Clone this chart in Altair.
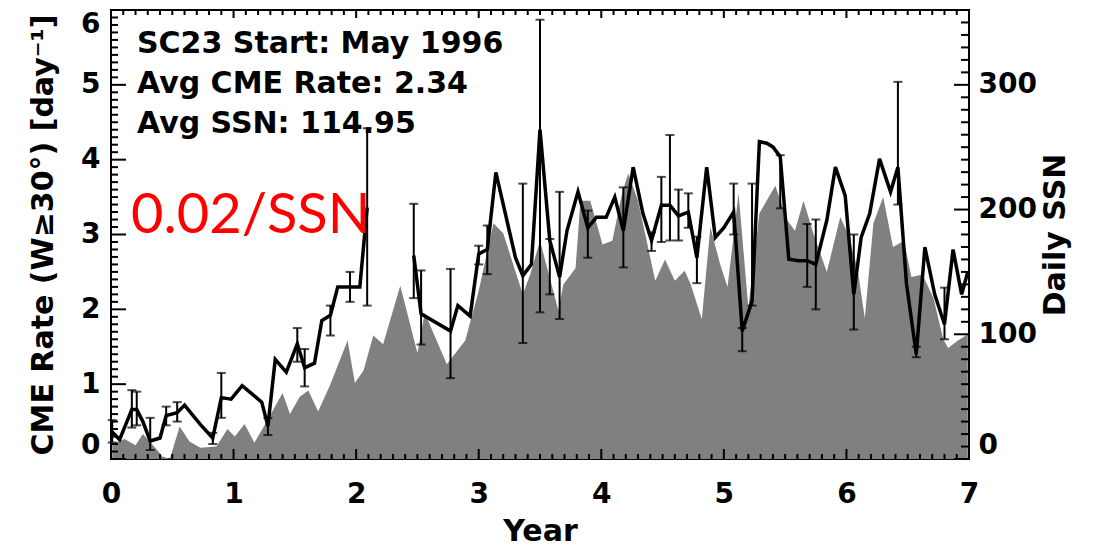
import altair as alt
import pandas as pd

# ---- CME rate (per Carrington rotation), years since cycle start -----------
# first run (before the mid-1998 SOHO data gap)
cme_year_a = [0.01, 0.07, 0.17, 0.21, 0.26, 0.32, 0.40, 0.45, 0.54, 0.60,
              0.67, 0.73, 0.83, 0.90, 0.98, 1.07, 1.15, 1.23, 1.28, 1.34,
              1.43, 1.52, 1.58, 1.66, 1.72, 1.79, 1.85, 1.95, 2.03, 2.09]
cme_rate_a = [0.36, 0.26, 0.66, 0.66, 0.50, 0.24, 0.28, 0.58, 0.62, 0.72,
              0.58, 0.46, 0.28, 0.82, 0.80, 0.98, 0.87, 0.76, 0.44, 1.33,
              1.16, 1.54, 1.22, 1.28, 1.85, 1.92, 2.30, 2.30, 2.30, 3.36]
# second run
cme_year_b = [2.47, 2.53, 2.77, 2.83, 2.93, 3.00, 3.07, 3.14, 3.30, 3.36,
              3.43, 3.50, 3.58, 3.66, 3.72, 3.81, 3.89, 3.96, 4.04, 4.11,
              4.18, 4.26, 4.34, 4.41, 4.49, 4.56, 4.63, 4.71, 4.78, 4.86,
              4.93, 5.00, 5.08, 5.15, 5.23, 5.29, 5.35, 5.40, 5.46, 5.53,
              5.61, 5.68, 5.75, 5.84, 5.91, 5.99, 6.06, 6.12, 6.19, 6.27,
              6.36, 6.42, 6.49, 6.57, 6.64, 6.72, 6.80, 6.87, 6.94, 6.99]
cme_rate_b = [2.72, 1.94, 1.71, 2.05, 1.91, 2.74, 2.80, 3.83, 2.69, 2.45,
              2.60, 4.40, 2.92, 2.43, 3.05, 3.57, 3.09, 3.23, 3.23, 3.50,
              3.05, 3.90, 3.28, 2.92, 3.39, 3.39, 3.25, 3.30, 2.69, 3.90,
              2.96, 3.09, 3.30, 1.71, 2.11, 4.24, 4.22, 4.17, 4.04, 2.67,
              2.65, 2.65, 2.60, 3.19, 3.90, 3.52, 2.20, 2.96, 3.28, 4.01,
              3.57, 3.90, 2.34, 1.40, 2.83, 2.20, 1.80, 2.80, 2.20, 2.50]

# ---- error bars on the CME rate ---------------------------------------------
err_year = [0.01, 0.17, 0.21, 0.32, 0.45, 0.54, 0.83, 0.90, 1.28, 1.52,
            1.58, 1.79, 1.95, 2.09, 2.47, 2.53, 2.77, 3.00, 3.07, 3.36,
            3.50, 3.58, 3.66, 3.89, 4.18, 4.41, 4.49, 4.56, 4.63, 4.71,
            4.78, 5.08, 5.15, 5.23, 5.46, 5.68, 5.75, 6.06, 6.42, 6.57,
            6.80]
err_lo = [0.22, 0.42, 0.45, 0.12, 0.45, 0.50, 0.20, 0.55, 0.32, 1.30,
          0.97, 1.65, 2.10, 2.05, 2.15, 1.53, 1.08, 2.60, 2.47, 1.55,
          1.96, 2.20, 1.87, 2.69, 2.56, 2.78, 2.90, 2.92, 2.92, 3.09,
          2.35, 3.00, 1.44, 2.05, 3.35, 2.30, 2.00, 1.73, 3.40, 1.36,
          1.60]
err_hi = [0.52, 0.92, 0.90, 0.55, 0.70, 0.76, 0.35, 1.15, 0.55, 1.75,
          1.47, 2.05, 2.50, 4.42, 3.41, 2.52, 2.54, 2.85, 3.12, 3.68,
          5.87, 2.94, 3.57, 3.32, 3.63, 3.03, 3.77, 4.33, 3.60, 3.55,
          2.97, 3.68, 1.75, 3.68, 4.06, 3.14, 3.20, 3.00, 5.04, 1.50,
          2.29]

# ---- daily sunspot number (rotation averaged) ------------------------------
ssn_year = [0.01, 0.11, 0.20, 0.26, 0.36, 0.42, 0.48, 0.56, 0.64, 0.73,
            0.86, 0.95, 1.01, 1.09, 1.17, 1.27, 1.40, 1.46, 1.54, 1.61,
            1.69, 1.79, 1.93, 1.99, 2.06, 2.14, 2.22, 2.36, 2.50, 2.56,
            2.74, 2.89, 3.00, 3.12, 3.20, 3.36, 3.42, 3.50, 3.65, 3.69,
            3.79, 3.83, 3.91, 4.01, 4.09, 4.17, 4.22, 4.30, 4.44, 4.52,
            4.60, 4.68, 4.73, 4.82, 4.89, 4.97, 5.03, 5.12, 5.20, 5.29,
            5.42, 5.52, 5.58, 5.65, 5.73, 5.84, 5.95, 6.01, 6.09, 6.15,
            6.22, 6.30, 6.38, 6.47, 6.53, 6.62, 6.71, 6.79, 6.83, 6.91,
            6.99]
ssn_val = [12, 16, 11, 20, 9, 2, 0, 26, 14, 9,
           10, 24, 18, 28, 13, 30, 53, 36, 50, 55,
           38, 60, 95, 61, 71, 99, 92, 139, 85, 117,
           76, 95, 135, 189, 181, 132, 148, 175, 119, 140,
           153, 207, 207, 172, 175, 213, 229, 207, 143, 160,
           143, 151, 140, 112, 186, 156, 138, 213, 121, 197,
           219, 191, 183, 207, 181, 150, 194, 181, 153, 113,
           189, 210, 170, 175, 146, 148, 129, 96, 89, 95,
           100]

# ---- tick values ------------------------------------------------------------
rate_major = [0, 1, 2, 3, 4, 5, 6]
rate_minor = [i / 10 for i in range(61) if i % 10]
ssn_major = [0, 100, 200, 300]
ssn_minor = [i * 10 for i in range(37) if i % 10]
year_major = [0, 1, 2, 3, 4, 5, 6, 7]
year_minor = [i / 10 for i in range(71) if i % 10]

W, H = 858, 449
BOLD = "DejaVu Sans"

cme_df = pd.DataFrame({
    "year": cme_year_a + cme_year_b,
    "rate": cme_rate_a + cme_rate_b,
    "run": ["a"] * len(cme_year_a) + ["b"] * len(cme_year_b),
})
err_df = pd.DataFrame({"year": err_year, "lo": err_lo, "hi": err_hi})
ssn_df = pd.DataFrame({"year": ssn_year, "ssn": ssn_val})

xs = alt.Scale(domain=[0, 7], nice=False, zero=False)
ys_rate = alt.Scale(domain=[0, 6], nice=False, zero=False)
ys_ssn = alt.Scale(domain=[0, 360], nice=False, zero=False)

# one axis definition per scale, shared by every layer that uses it
X_AXIS = alt.Axis(values=year_major, title="Year", labelPadding=21,
                  labelFlush=False, titlePadding=8, zindex=1)
Y_RATE_AXIS = alt.Axis(orient="left", values=rate_major,
                       title="CME Rate (W≥30°) [day⁻¹]",
                       labelFlush=True, labelPadding=11, titlePadding=22,
                       zindex=1)
Y_SSN_AXIS = alt.Axis(orient="right", values=ssn_major, title="Daily SSN",
                      titleAngle=270, titleBaseline="top",
                      labelFlush=True, labelPadding=9, titlePadding=4,
                      zindex=1)


def X(field):
    return alt.X(field, scale=xs, axis=X_AXIS)


def YR(field):
    return alt.Y(field, scale=ys_rate, axis=Y_RATE_AXIS)


def YS(field):
    return alt.Y(field, scale=ys_ssn, axis=Y_SSN_AXIS)


def vals(v):
    return pd.DataFrame({"v": v})


def yticks(values, yenc, x0, x1):
    return alt.Chart(vals(values)).mark_rule(color="black", strokeWidth=2).encode(
        y=yenc("v:Q"), x=alt.value(x0), x2=alt.value(x1),
    )


def xticks(values, y0, y1):
    return alt.Chart(vals(values)).mark_rule(color="black", strokeWidth=2).encode(
        x=X("v:Q"), y=alt.value(y0), y2=alt.value(y1),
    )


# ---- sunspot group (right axis) --------------------------------------------
ssn_area = alt.Chart(ssn_df).mark_area(color="#808080", opacity=1).encode(
    x=X("year:Q"), y=YS("ssn:Q"),
)

ssn_group = alt.layer(
    ssn_area,
    yticks(ssn_major, YS, W, W - 15),
    yticks(ssn_minor, YS, W, W - 8),
)

# ---- CME rate group (left axis) --------------------------------------------
cme_line = alt.Chart(cme_df).mark_line(color="black", strokeWidth=3.5).encode(
    x=X("year:Q"), y=YR("rate:Q"), detail="run:N",
)
err_rule = alt.Chart(err_df).mark_rule(color="black", strokeWidth=2).encode(
    x=X("year:Q"), y=YR("lo:Q"), y2="hi:Q",
)
cap_lo = alt.Chart(err_df).mark_tick(color="black", orient="horizontal",
                                     size=9, thickness=2).encode(
    x=X("year:Q"), y=YR("lo:Q"),
)
cap_hi = alt.Chart(err_df).mark_tick(color="black", orient="horizontal",
                                     size=9, thickness=2).encode(
    x=X("year:Q"), y=YR("hi:Q"),
)


def label(text, x, y, **kw):
    return alt.Chart(pd.DataFrame({"t": [text]})).mark_text(
        align="left", baseline="alphabetic", **kw
    ).encode(text="t:N", x=alt.value(x), y=alt.value(y))


info_style = dict(font=BOLD, fontSize=30, fontWeight="bold", color="black")

cme_group = alt.layer(
    cme_line,
    err_rule,
    cap_lo,
    cap_hi,
    yticks(rate_major, YR, 0, 15),
    yticks(rate_minor, YR, 0, 7),
    xticks(year_major, H, H - 10),
    xticks(year_minor, H, H - 5),
    xticks(year_major, 0, 8),
    xticks(year_minor, 0, 5),
    label("SC23 Start: May 1996", 26, 43, **info_style),
    label("Avg CME Rate: 2.34", 26, 83, **info_style),
    label("Avg SSN: 114.95", 26, 123, **info_style),
    label("0.02/SSN", 20, 223, font="Lato", fontSize=56, color="#FF0000"),
)

chart = alt.layer(ssn_group, cme_group).resolve_scale(y="independent").properties(
    width=W, height=H,
    autosize=alt.AutoSizeParams(type="none"),
    padding={"left": 111, "top": 10, "right": 128, "bottom": 89},
    background="white",
).configure_view(
    stroke="black", strokeWidth=2,
).configure_axis(
    labelFont=BOLD, labelFontSize=28, labelFontWeight="bold", labelColor="black",
    titleFont=BOLD, titleFontSize=30, titleFontWeight="bold", titleColor="black",
    ticks=False, tickSize=0, domain=False, grid=False,
)

chart.save("out.html", embed_options={"renderer": "svg", "actions": False})
